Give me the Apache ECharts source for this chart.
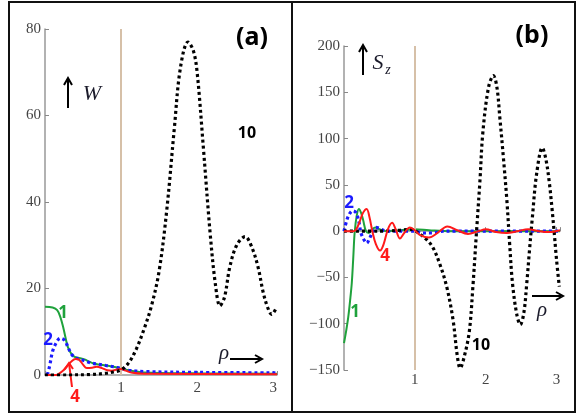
<!DOCTYPE html>
<html>
<head>
<meta charset="utf-8">
<script src="https://cdn.jsdelivr.net/npm/echarts@6/dist/echarts.min.js"></script>
<style>
html,body{margin:0;padding:0;background:#fff;}
#Chart{width:579px;height:414px;}
</style>
</head>
<body>
<div id="Chart"></div>
<script>
// panel (a): W vs rho
var w10 = [[0,0],[0.3,0],[0.6,0.1],[0.8,0.4],[0.9,0.7],[1.0,1.2],[1.1,2.8],[1.2,6],[1.3,10.5],[1.4,16],[1.5,24],[1.6,38],[1.7,57],[1.78,71],[1.88,77],[1.95,75],[2.0,70],[2.08,53],[2.17,33],[2.24,21],[2.3,16],[2.36,18],[2.43,25],[2.52,30],[2.63,32],[2.72,29.5],[2.8,25],[2.87,19],[2.93,15.5],[2.98,14],[3.04,15.5]];
var w1 = [[0,15.8],[0.1,15.6],[0.16,15],[0.2,13.5],[0.24,11],[0.3,6.5],[0.35,4.8],[0.4,4.1],[0.46,3.9],[0.52,3.6],[0.59,3],[0.65,2.6],[0.72,2.4],[0.8,2.2],[0.9,1.9],[1.0,1.6],[1.1,1.1],[1.3,0.6],[2,0.4],[3.05,0.3]];
var w2 = [[0.03,0],[0.06,2],[0.1,5.5],[0.15,7.5],[0.2,8.5],[0.26,8],[0.3,6.5],[0.35,4.8],[0.4,4],[0.5,3.4],[0.6,2.8],[0.7,2.5],[0.8,2.2],[0.9,1.9],[1.0,1.5],[1.1,1.1],[1.3,0.8],[2,0.6],[3.05,0.5]];
var w4 = [[0,0],[0.15,0],[0.2,0.5],[0.25,1.2],[0.3,2.2],[0.35,3.2],[0.4,3.7],[0.45,3.5],[0.5,2.4],[0.55,1.6],[0.62,1.7],[0.68,1.9],[0.75,1.6],[0.82,1.1],[0.88,1.0],[0.95,1.3],[1.0,1.4],[1.06,1.0],[1.15,0.5],[1.3,0.3],[3.05,0.2]];

// panel (b): Sz vs rho
var s10 = [[0,0],[0.5,0],[0.8,1],[0.95,2],[1.05,-2],[1.15,-8],[1.25,-17],[1.35,-35],[1.45,-60],[1.54,-96],[1.6,-135],[1.64,-148],[1.7,-135],[1.77,-108],[1.82,-60],[1.87,-2],[1.92,55],[1.96,106],[2.04,155],[2.11,168],[2.16,155],[2.2,123],[2.25,80],[2.3,33],[2.34,-15],[2.38,-57],[2.44,-90],[2.49,-101],[2.54,-88],[2.58,-57],[2.62,-20],[2.66,15],[2.72,62],[2.8,90],[2.85,78],[2.9,52],[2.94,22],[2.97,-3],[3.0,-30],[3.04,-60]];
var s1 = [[0,-121],[0.03,-108],[0.06,-93],[0.09,-72],[0.11,-56],[0.13,-30],[0.15,-2],[0.18,17],[0.21,24],[0.24,20],[0.27,12],[0.31,0],[0.35,-2],[0.4,2],[0.44,4],[0.5,2],[0.6,0],[0.8,1],[1.0,2],[1.2,1],[1.5,0],[3.05,0]];
var s2 = [[0,0],[0.04,12],[0.08,19],[0.12,22],[0.17,20],[0.21,10],[0.24,-2],[0.28,-9],[0.32,-13],[0.36,-8],[0.41,0],[0.45,4],[0.5,3],[0.6,0],[1,0],[1.1,-2],[1.25,-2],[1.4,0],[3.05,0]];
var s4 = [[0,0],[0.14,0],[0.18,3],[0.22,10],[0.27,20],[0.32,24],[0.36,15],[0.4,0],[0.45,-14],[0.51,-21],[0.56,-14],[0.62,2],[0.68,9],[0.73,2],[0.79,-8],[0.85,-2],[0.93,4],[1.0,1],[1.07,-4],[1.2,-7],[1.32,-2],[1.46,5],[1.6,1],[1.75,-3],[1.9,0],[2.0,2],[2.15,-1],[2.3,-2],[2.45,0],[2.6,2],[2.75,0],[2.9,-1],[3.05,1]];

var green = "#1fa23c";
var blue = "#1a1aff";
var red = "#ff1a1a";
var tan = "#d6c0a8";
var serif = "'Liberation Serif', 'DejaVu Serif', serif";

function minus(v) { return String(v).replace('-', '\u2212'); }

function xAx(idx) {
    return {
        type: 'value', gridIndex: idx, min: 0, max: 3.05, interval: 1,
        axisLine: { onZero: true, lineStyle: { color: '#999', width: 1.5 } },
        axisTick: { show: true, inside: true, length: 4, lineStyle: { color: '#888' } },
        splitLine: { show: false },
        axisLabel: {
            color: '#444', fontFamily: serif, fontSize: 15, margin: idx === 0 ? 6 : 3,
            formatter: function (v) { return (v === 0 || v % 1 !== 0) ? '' : v; }
        }
    };
}
function yAx(idx, mn, mx, step) {
    return {
        type: 'value', gridIndex: idx, min: mn, max: mx, interval: step,
        axisLine: { show: true, onZero: false, lineStyle: { color: '#999', width: 1.5 } },
        axisTick: { show: true, inside: true, length: 4, lineStyle: { color: '#888' } },
        splitLine: { show: false },
        axisLabel: { color: '#444', fontFamily: serif, fontSize: 15, margin: 4, formatter: minus }
    };
}
function curve(idx, data, color, dotted, z) {
    return {
        type: 'line', xAxisIndex: idx, yAxisIndex: idx, data: data,
        smooth: 0.35,
        symbol: 'none', z: z, silent: true, color: color,
        lineStyle: dotted ? { color: color, width: 3.2, type: [3, 3], cap: 'butt' } : { color: color, width: 2 }
    };
}
function vline(idx) {
    return {
        type: 'line', xAxisIndex: idx, yAxisIndex: idx, data: [], z: 1, color: tan,
        markLine: { silent: true, symbol: 'none', label: { show: false },
            lineStyle: { color: tan, width: 2, type: 'solid' }, data: [{ xAxis: 1 }] }
    };
}
function arrowUp(x, y1, y2) {
    return [
        { type: 'line', shape: { x1: x, y1: y2, x2: x, y2: y1 + 2 }, style: { stroke: '#000', lineWidth: 2 } },
        { type: 'polyline', shape: { points: [[x - 4, y1 + 7], [x, y1], [x + 4, y1 + 7]] }, style: { stroke: '#000', lineWidth: 2, fill: null } }
    ];
}
function arrowRight(x1, x2, y) {
    return [
        { type: 'line', shape: { x1: x1, y1: y, x2: x2 - 2, y2: y }, style: { stroke: '#000', lineWidth: 2 } },
        { type: 'polyline', shape: { points: [[x2 - 7, y - 4], [x2, y], [x2 - 7, y + 4]] }, style: { stroke: '#000', lineWidth: 2, fill: null } }
    ];
}
function txt(x, y, s, color, size, bold, italic, fam) {
    return { type: 'text', x: x, y: y, z: 100, style: { text: s, fill: color, fontSize: size,
        fontWeight: bold ? 'bold' : 'normal', fontStyle: italic ? 'italic' : 'normal',
        fontFamily: fam || "'Noto Sans', sans-serif", align: 'center', verticalAlign: 'middle' } };
}

var myChart = echarts.init(document.getElementById("Chart"));
var graphics = [
    { type: 'rect', shape: { x: 9, y: 2, width: 566, height: 410 }, style: { stroke: '#111', lineWidth: 2, fill: null } },
    { type: 'line', shape: { x1: 292, y1: 2, x2: 292, y2: 412 }, style: { stroke: '#111', lineWidth: 2 } },
    txt(252, 38, '(a)', '#000', 25, true),
    txt(532, 36, '(b)', '#000', 25, true),
    txt(92, 94, 'W', '#1a1a2a', 22, false, true, serif),
    txt(247, 133, '10', '#000', 16, true),
    txt(224, 353, '\u03c1', '#1a1a2a', 21, false, true, serif),
    txt(63, 313, '1', green, 17, true),
    txt(48, 340, '2', blue, 17, true),
    txt(75, 397, '4', red, 17, true),
    { type: 'line', shape: { x1: 72, y1: 387, x2: 69, y2: 363 }, style: { stroke: red, lineWidth: 2 } },
    { type: 'polyline', shape: { points: [[64, 370], [69, 363], [73, 369]] }, style: { stroke: red, lineWidth: 2, fill: null } },
    txt(378, 63, 'S', '#1a1a2a', 22, false, true, serif),
    txt(388, 70, 'z', '#1a1a2a', 14, false, true, serif),
    txt(542, 310, '\u03c1', '#1a1a2a', 21, false, true, serif),
    txt(349, 203, '2', blue, 17, true),
    txt(385, 256, '4', red, 17, true),
    txt(355, 312, '1', green, 17, true),
    txt(481, 345, '10', '#000', 16, true)
].concat(arrowUp(68, 78, 108), arrowRight(230, 262, 359), arrowUp(363, 45, 75), arrowRight(532, 563, 296));

var option = {
    animation: false,
    grid: [
        { left: 45, top: 29, width: 232, height: 346 },
        { left: 344, top: 46, width: 216, height: 324 }
    ],
    xAxis: [xAx(0), xAx(1)],
    yAxis: [yAx(0, 0, 80, 20), yAx(1, -150, 200, 50)],
    graphic: graphics,
    series: [
        vline(0),
        curve(0, w1, green, false, 3),
        curve(0, w2, blue, true, 4),
        curve(0, w4, red, false, 5),
        curve(0, w10, '#000', true, 6),
        vline(1),
        curve(1, s1, green, false, 3),
        curve(1, s2, blue, true, 4),
        curve(1, s10, '#000', true, 5),
        curve(1, s4, red, false, 6)
    ]
};
myChart.setOption(option);
window.addEventListener("resize", function () {
    myChart.resize();
});
</script>
</body>
</html>
